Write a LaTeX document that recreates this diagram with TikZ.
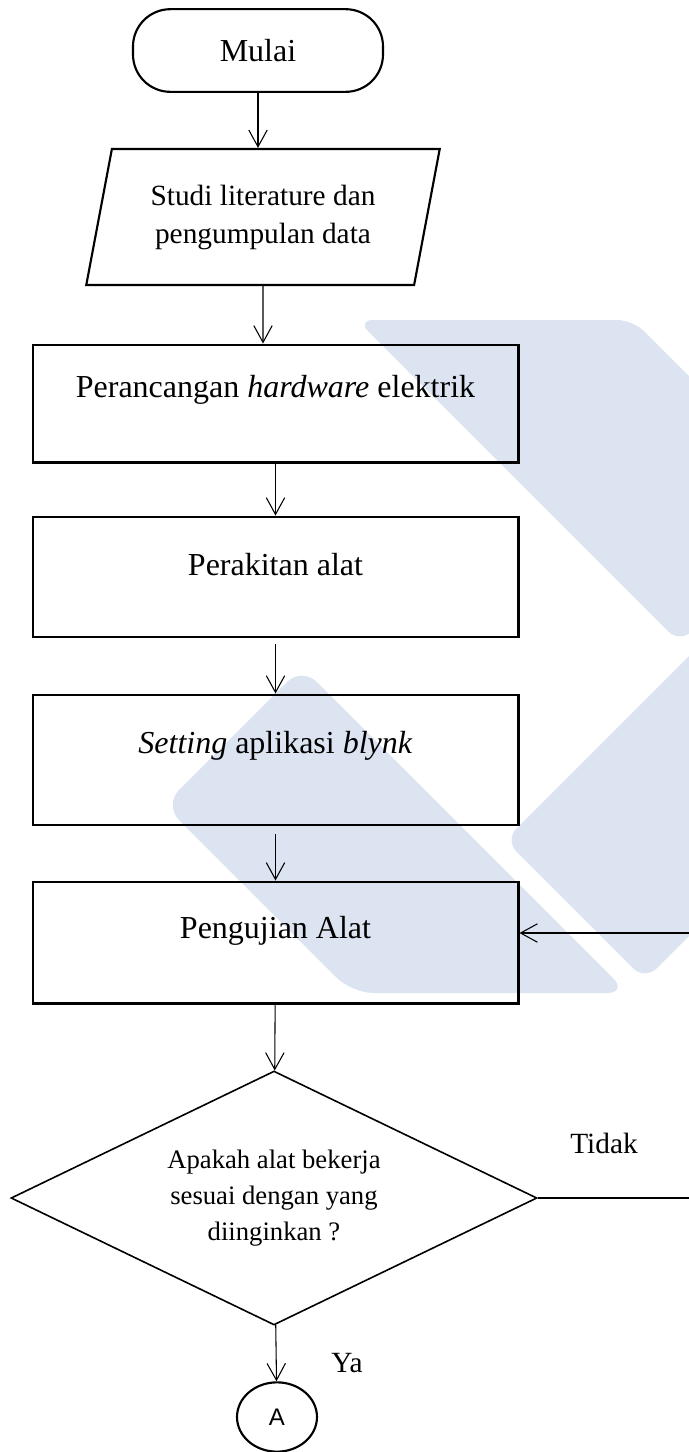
\documentclass[tikz,border=0pt]{standalone}
\usepackage{fontspec}
\setmainfont{Liberation Serif}
\newfontfamily\arialfont{Liberation Sans}
\usepackage{tikz}
\usetikzlibrary{shapes,arrows,positioning,calc,arrows.meta}
\definecolor{logoblue}{RGB}{220,227,241}

\begin{document}
\begin{tikzpicture}[x=0.375pt, y=-0.375pt,
    arr/.style={-{Straight Barb[length=6.3pt,width=6.9pt]}, line width=0.4pt},
    procbox/.style={draw, line width=1.1pt, minimum width=181.9pt, minimum height=#1, inner sep=0pt},
    boxtext/.style={font=\fontsize{12}{14}\selectfont},
    smalltext/.style={font=\fontsize{11}{14.25}\selectfont}]
    \useasboundingbox (0,0) rectangle (688,1452);

    % logo in the background
    \fill[logoblue, rounded corners=6pt] (357,320) -- (633,320) -- (760,447) -- (760,563) -- (680,643) -- cycle;
    \fill[logoblue, rounded corners=8pt] (302,667) -- (628,993) -- (352,993) -- (164,805) -- cycle;
    \fill[logoblue, rounded corners=6pt] (505,840) -- (760,585) -- (760,865) -- (645,980) -- cycle;

    \node[draw, line width=0.8pt, rounded corners=14pt, minimum width=93.75pt, minimum height=31pt, boxtext] (mulai) at (258,50.5) {Mulai};

    \node[draw, line width=0.8pt, trapezium, trapezium left angle=76, trapezium right angle=104, trapezium stretches=true,
          minimum width=132.75pt, minimum height=51pt, align=center, smalltext] (studi) at (263,217) {Studi literature dan\\pengumpulan data};

    \node[procbox=43.9pt] (perancangan) at (275.5,403.5) {};
    \node[boxtext] (perancanganlbl) at (275.5,390) {Perancangan \textit{hardware} elektrik};

    \node[procbox=45pt] (perakitan) at (275.5,577) {};
    \node[boxtext] (perakitanlbl) at (275.5,565) {Perakitan alat};

    \node[procbox=48.75pt] (setting) at (275.5,760) {};
    \node[boxtext] (settinglbl) at (275.5,746) {\textit{Setting} aplikasi \textit{blynk}};

    \node[procbox=45.4pt] (pengujian) at (275.5,942.5) {};
    \node[boxtext] (pengujianlbl) at (275.5,931) {Pengujian Alat};

    \node[draw, diamond, aspect=2.07, minimum width=197.25pt, minimum height=95.25pt, inner sep=0pt, line width=0.6pt,
          align=center, font=\fontsize{10}{13.5}\selectfont] (cek) at (274,1198) {Apakah alat bekerja\\sesuai dengan yang\\diinginkan ?};

    \node[draw, ellipse, minimum width=30pt, minimum height=26pt, inner sep=0pt, line width=0.8pt,
          font=\arialfont\fontsize{9}{10}\selectfont] (konektor) at (277,1417) {A};

    \node[smalltext] (tidak) at (604,1143) {Tidak};
    \node[smalltext] (ya) at (347,1363) {Ya};

    \draw[arr] (mulai) -- (mulai |- studi.north);
    \draw[arr] (studi) -- (studi |- perancangan.north);
    \draw[arr] (perancangan) -- (perakitan);
    \draw[arr, shorten <=2.2pt] (perakitan) -- (setting);
    \draw[arr, shorten <=3pt] (setting) -- (pengujian);
    \draw[arr] (pengujian) -- (cek);
    \draw[arr] (cek) -- (konektor);

    \coordinate (balik) at (700,933);
    \draw[arr] (cek.east) -| (balik) -- (balik -| pengujian.east);
\end{tikzpicture}
\end{document}
